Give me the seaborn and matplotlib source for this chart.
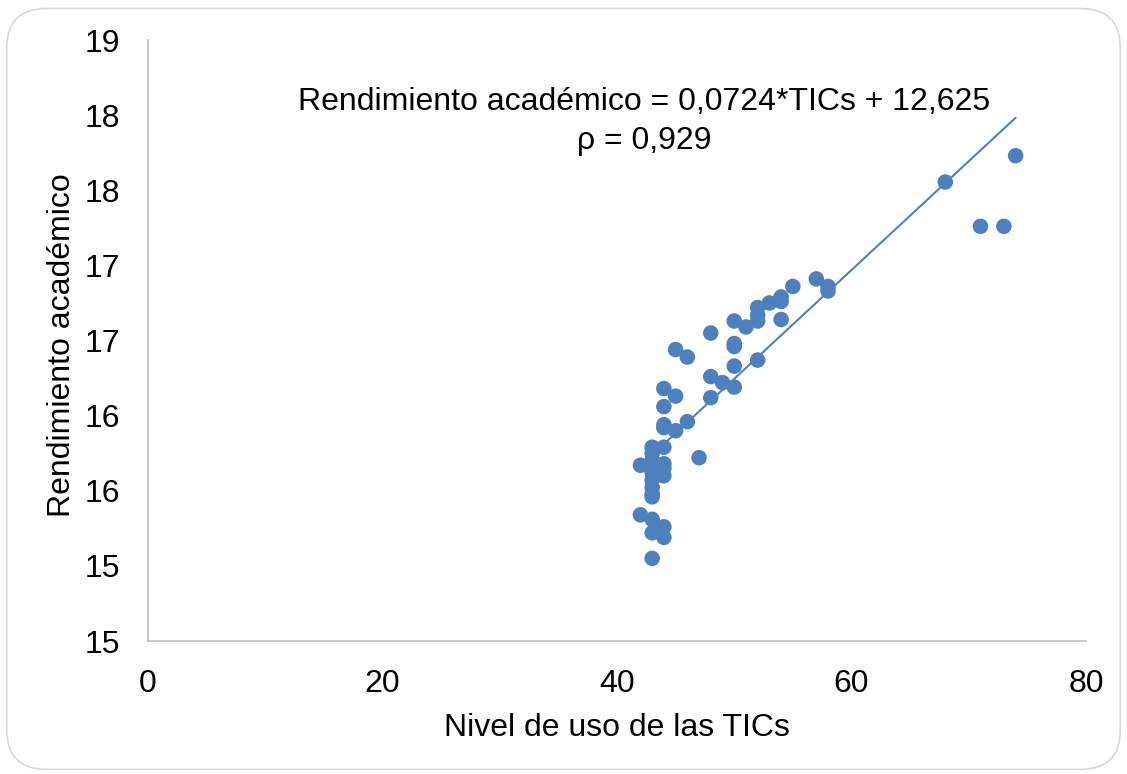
import numpy as np
import pandas as pd
import matplotlib
matplotlib.use("Agg")
import matplotlib.pyplot as plt
from matplotlib.patches import FancyBboxPatch
from matplotlib.ticker import FuncFormatter, MultipleLocator
import seaborn as sns

# Data
tics = [74, 68, 71, 73, 57, 55, 58, 58, 54, 54, 53, 52, 51, 52, 52, 50, 54,
        48, 50, 50, 45, 46, 52, 50, 48, 49, 50, 44, 45, 48, 44, 46, 44, 44,
        45, 44, 43, 43, 47, 42, 43, 44, 44, 43, 43, 44, 43, 43, 43, 43, 42,
        43, 44, 43, 44, 43]
rendimiento = [17.73, 17.555, 17.26, 17.26, 16.91, 16.86, 16.86, 16.83, 16.79,
               16.76, 16.75, 16.72, 16.59, 16.67, 16.63, 16.63, 16.64, 16.55,
               16.48, 16.46, 16.44, 16.39, 16.37, 16.33, 16.26, 16.22, 16.19,
               16.18, 16.13, 16.12, 16.06, 15.96, 15.94, 15.92, 15.90, 15.79,
               15.79, 15.75, 15.72, 15.67, 15.70, 15.68, 15.65, 15.65, 15.62,
               15.60, 15.57, 15.52, 15.48, 15.46, 15.34, 15.31, 15.26, 15.22,
               15.19, 15.05]
slope = 0.0724
intercept = 12.625
eq_text = "Rendimiento académico = 0,0724*TICs + 12,625"
rho_text = "ρ = 0,929"
x_label = "Nivel de uso de las TICs"
y_label = "Rendimiento académico"

df = pd.DataFrame({"TICs": tics, "Rend": rendimiento})

sns.set_theme(style="white")
plt.rcParams['font.family'] = ['Liberation Sans', 'DejaVu Sans']
plt.rcParams['text.color'] = 'black'
plt.rcParams['axes.labelcolor'] = 'black'

fig = plt.figure(figsize=(11.27, 7.74), dpi=100)
border = FancyBboxPatch((0.006, 0.006), 0.988, 0.983,
                        boxstyle="round,pad=0,rounding_size=0.035",
                        transform=fig.transFigure, facecolor="none",
                        edgecolor="#d9d9d9", linewidth=1.2, mutation_aspect=1127/774)
fig.patches.append(border)

ax = fig.add_axes([0.1313, 0.1718, 0.8323, 0.7765])
ax.set_facecolor("none")
color = "#4E80BE"

xl = np.array([min(tics), max(tics)])
line_df = pd.DataFrame({"x": xl, "y": slope * xl + intercept})
sns.lineplot(data=line_df, x="x", y="y", ax=ax, color=color, linewidth=1.5)
sns.scatterplot(data=df, x="TICs", y="Rend", ax=ax, color=color, s=125,
                edgecolor="none", zorder=3)

ax.set_xlim(0, 80)
ax.set_ylim(14.5, 18.5)
ax.xaxis.set_major_locator(MultipleLocator(20))
ax.yaxis.set_major_locator(MultipleLocator(0.5))
ax.yaxis.set_major_formatter(FuncFormatter(lambda v, p: str(int(np.floor(v + 0.5)))))
ax.tick_params(axis='both', labelsize=23, length=0, colors="black")
ax.tick_params(axis='y', pad=20)
ax.tick_params(axis='x', pad=20)

for s in ["top", "right"]:
    ax.spines[s].set_visible(False)
for s in ["left", "bottom"]:
    ax.spines[s].set_color("#bfbfbf")
    ax.spines[s].set_linewidth(1.2)

ax.set_xlabel(x_label, fontsize=23, va="center", color="black")
ax.xaxis.set_label_coords(0.5, -0.145)
ax.set_ylabel(y_label, fontsize=23, va="center", color="black")
ax.yaxis.set_label_coords(-0.0917, 0.4925)

ax.text(42.3, 18.09, eq_text, ha="center", va="center", fontsize=23)
ax.text(42.3, 17.83, rho_text, ha="center", va="center", fontsize=23)

fig.savefig("out.png", dpi=100)
